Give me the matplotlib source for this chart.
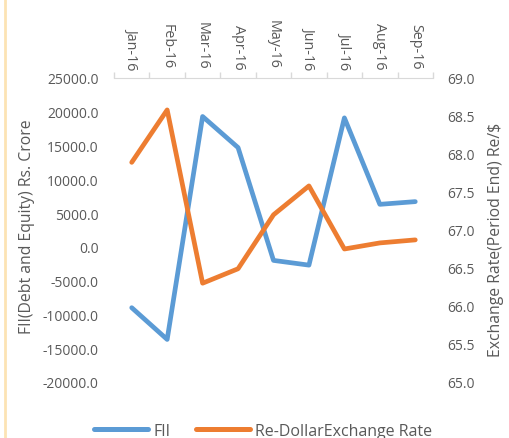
import matplotlib.pyplot as plt
from matplotlib.lines import Line2D

# Data
months = ['Jan-16', 'Feb-16', 'Mar-16', 'Apr-16', 'May-16',
          'Jun-16', 'Jul-16', 'Aug-16', 'Sep-16']
fii = [-9000, -13700, 19300, 14700, -2000, -2700, 19100, 6300, 6700]
rate = [67.89, 68.58, 66.30, 66.49, 67.20, 67.58, 66.75, 66.83, 66.87]
left_ticks = [-20000, -15000, -10000, -5000, 0, 5000, 10000, 15000, 20000, 25000]
right_ticks = [65.0, 65.5, 66.0, 66.5, 67.0, 67.5, 68.0, 68.5, 69.0]

plt.rcParams['font.family'] = ['Open Sans', 'DejaVu Sans']
txt = '#595959'
blue = '#5B9BD5'
orange = '#ED7D31'

fig = plt.figure(figsize=(5.09, 4.39), dpi=100)
ax = fig.add_axes([114 / 509, 1 - 383 / 439, (433 - 114) / 509, (383 - 79) / 439])
ax2 = ax.twinx()

x = list(range(len(months)))
ax.plot(x, fii, color=blue, lw=3.4, solid_capstyle='round', solid_joinstyle='round', zorder=3)
ax2.plot(x, rate, color=orange, lw=3.4, solid_capstyle='round', solid_joinstyle='round', zorder=3)

ax.set_xlim(-0.5, len(months) - 0.5)
ax.set_ylim(-20000, 25000)
ax2.set_ylim(65.0, 69.0)

# category axis along the top
ax.xaxis.tick_top()
ax.set_xticks(x)
ax.set_xticklabels(months, rotation=270, color=txt, fontsize=10.3)
ax.set_xticks([i - 0.5 for i in range(len(months) + 1)], minor=True)
ax.tick_params(axis='x', which='major', length=0, pad=7)
ax.tick_params(axis='x', which='minor', length=4, color='#D9D9D9', width=1)

ax.set_yticks(left_ticks)
ax.set_yticklabels(['%.1f' % v for v in left_ticks], color=txt, fontsize=10)
ax.tick_params(axis='y', length=0, pad=11)
ax2.set_yticks(right_ticks)
ax2.set_yticklabels(['%.1f' % v for v in right_ticks], color=txt, fontsize=10)
ax2.tick_params(axis='y', length=0, pad=10)

for a in (ax, ax2):
    for side in ('left', 'right', 'bottom'):
        a.spines[side].set_visible(False)
    a.spines['top'].set_color('#D9D9D9')
ax2.spines['top'].set_visible(False)

fig.text(27 / 509, 1 - 227 / 439, 'FII(Debt and Equity) Rs. Crore', rotation=90,
         ha='center', va='center', color=txt, fontsize=11.3)
fig.text(496 / 509, 1 - 240 / 439, 'Exchange Rate(Period End) Re/$', rotation=90,
         ha='center', va='center', color=txt, fontsize=11.3)

handles = [Line2D([], [], color=blue, lw=3.6, solid_capstyle='round'),
           Line2D([], [], color=orange, lw=3.6, solid_capstyle='round')]
fig.legend(handles, ['FII', 'Re-DollarExchange Rate'], loc='center',
           bbox_to_anchor=(263 / 509, 1 - 432 / 439), ncol=2, frameon=False,
           handlelength=3.4, handletextpad=0.3, columnspacing=1.6,
           labelcolor=txt, fontsize=11.5)

# thin border strip at the left edge of the screenshot
fig.add_artist(Line2D([5 / 509, 5 / 509], [0, 1], color='#FCE3B4', lw=2))

fig.savefig('out.png', dpi=100)
